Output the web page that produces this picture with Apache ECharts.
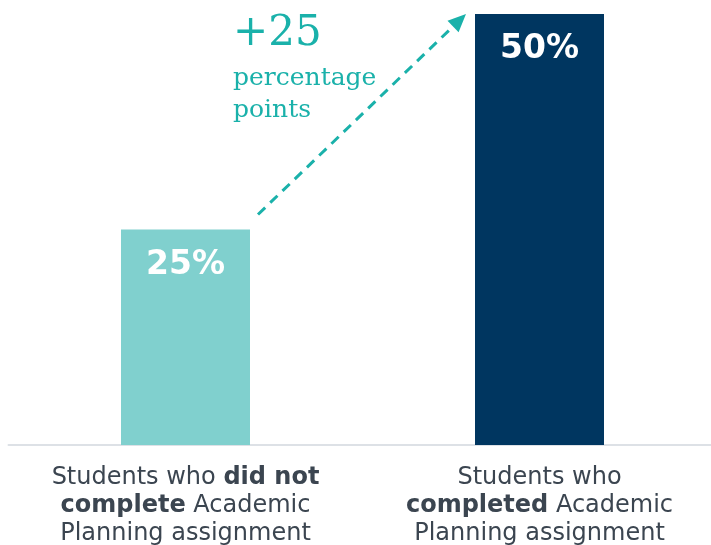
<!DOCTYPE html>
<html>
<head>
<meta charset="utf-8">
<script src="https://cdn.jsdelivr.net/npm/echarts@6/dist/echarts.min.js"></script>
<style>
  html, body { margin: 0; padding: 0; background: #fff; }
  #main { width: 711px; height: 545px; }
</style>
</head>
<body>
<div id="main"></div>
<script>
// 数据
var categories = [
  'Students who {b|did not}\n{b|complete} Academic\nPlanning assignment',
  'Students who\n{b|completed} Academic\nPlanning assignment'
];
var values = [25, 50];
var barColors = ['#80d0ce', '#003660'];
var changeText = '+25';
var changeUnit = 'percentage\npoints';

var teal = '#1ab1aa';
var barW = 129;
var myChart = echarts.init(document.getElementById('main'));

myChart.setOption({
  animation: false,
  grid: { left: 8.5, right: -5.5, top: 14, bottom: 100, containLabel: false, outerBoundsMode: 'none' },
  xAxis: {
    type: 'category',
    data: categories,
    axisTick: { show: false },
    axisLine: { lineStyle: { color: '#dde1e6', width: 2 } },
    axisLabel: {
      margin: 19,
      color: '#3b4550',
      fontFamily: 'DejaVu Sans',
      fontSize: 24,
      lineHeight: 28,
      interval: 0,
      rich: {
        b: { fontWeight: 'bold', fontFamily: 'DejaVu Sans', fontSize: 24, lineHeight: 28, color: '#3b4550' }
      }
    }
  },
  yAxis: {
    type: 'value',
    min: 0,
    max: 50,
    show: false,
    splitLine: { show: false }
  },
  series: [{
    type: 'bar',
    barWidth: barW,
    data: values.map(function (v, i) {
      return { value: v, itemStyle: { color: barColors[i] } };
    }),
    label: {
      show: true,
      position: 'insideTop',
      distance: 19,
      color: '#fff',
      fontWeight: 'bold',
      fontFamily: 'DejaVu Sans',
      fontSize: 33,
      formatter: '{c}%'
    }
  }]
});

// 箭头注释：根据柱子位置计算
function drawArrow() {
  var p1 = myChart.convertToPixel({ seriesIndex: 0 }, [0, values[0]]);
  var p2 = myChart.convertToPixel({ seriesIndex: 0 }, [1, values[1]]);
  var x1 = p1[0] + barW / 2 + 8, y1 = p1[1] - 15;
  var x2 = p2[0] - barW / 2 - 9, y2 = p2[1];
  var ang = Math.atan2(y2 - y1, x2 - x1);
  var len = 18, w = 8;
  var bx = x2 - len * Math.cos(ang), by = y2 - len * Math.sin(ang);
  var nx = -Math.sin(ang), ny = Math.cos(ang);
  myChart.setOption({
    graphic: [
      {
        type: 'line',
        shape: { x1: x1, y1: y1, x2: bx, y2: by },
        style: { stroke: teal, lineWidth: 3, lineDash: [10, 7] }
      },
      {
        type: 'polygon',
        shape: { points: [[x2, y2], [bx + nx * w, by + ny * w], [bx - nx * w, by - ny * w]] },
        style: { fill: teal }
      },
      {
        type: 'text',
        left: 233, top: 13,
        style: { text: changeText, fill: teal, font: '42px "DejaVu Serif"' }
      },
      {
        type: 'text',
        left: 233, top: 62,
        style: { text: changeUnit, fill: teal, font: '25px "DejaVu Serif"', lineHeight: 32 }
      }
    ]
  });
}
drawArrow();
</script>
</body>
</html>
